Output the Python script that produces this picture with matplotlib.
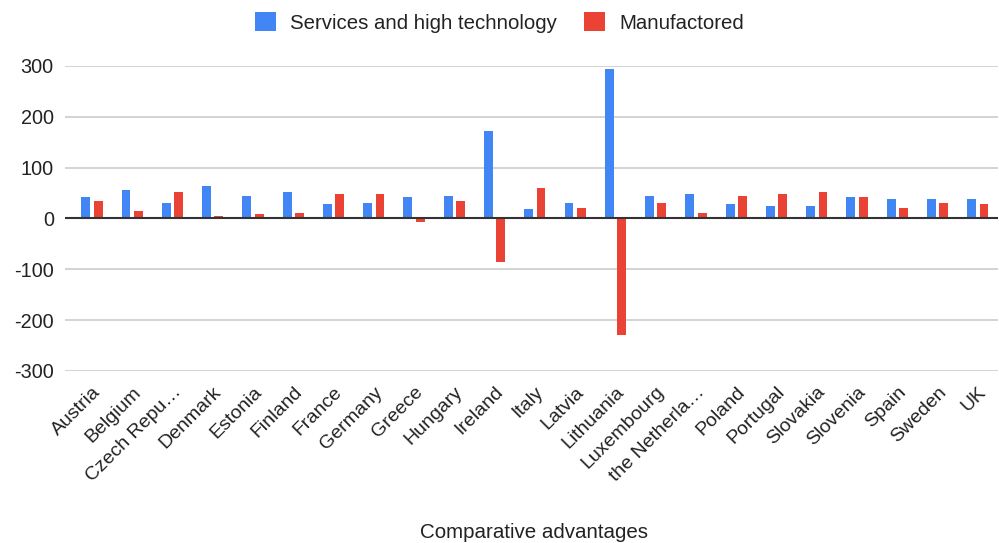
import matplotlib.pyplot as plt
import numpy as np

countries = ["Austria", "Belgium", "Czech Repu…", "Denmark", "Estonia", "Finland",
             "France", "Germany", "Greece", "Hungary", "Ireland", "Italy", "Latvia",
             "Lithuania", "Luxembourg", "the Netherla…", "Poland", "Portugal",
             "Slovakia", "Slovenia", "Spain", "Sweden", "UK"]
services = [42, 56, 31, 63, 45, 52, 28, 31, 42, 45, 173, 18, 31, 294, 45, 49, 28, 25, 25, 42, 39, 39, 39]
manufactored = [35, 14, 52, 5, 8, 11, 49, 49, -6, 35, -85, 59, 21, -229, 31, 11, 45, 49, 52, 42, 21, 31, 28]

plt.rcParams['font.family'] = ['Liberation Sans', 'DejaVu Sans']
plt.rcParams['axes.unicode_minus'] = False
txt = '#222222'

fig = plt.figure(figsize=(9.99, 5.43), dpi=100)
ax = fig.add_axes([0.065, 0.3168, 0.934, 0.5617])

x = np.arange(len(countries))
w = 0.22
ax.bar(x - 0.153, services, w, color='#4285F4', label='Services and high technology', zorder=3)
ax.bar(x + 0.153, manufactored, w, color='#EA4335', label='Manufactored', zorder=3)

ax.set_ylim(-300, 300)
ax.set_xlim(-0.67, 22.5)
ax.set_yticks([-300, -200, -100, 0, 100, 200, 300])
ax.yaxis.grid(True, color='#cccccc', linewidth=1.2, zorder=0)
ax.axhline(0, color='#333333', linewidth=1.5, zorder=4)
ax.tick_params(axis='y', length=0, labelsize=14.3, labelcolor=txt, pad=8)
ax.tick_params(axis='x', length=0, labelsize=14, labelcolor=txt, pad=9)
ax.set_xticks(x)
ax.set_xticklabels(countries, rotation=45, ha='right', rotation_mode='anchor')
for s in ax.spines.values():
    s.set_visible(False)

fig.text(0.535, 0.02, 'Comparative advantages', fontsize=14.8, color=txt,
         ha='center', va='center')

fig.legend(loc='center', bbox_to_anchor=(0.5, 0.9586), ncol=2, frameon=False,
           fontsize=14.7, handlelength=1.0, handleheight=1.0, columnspacing=1.35,
           handletextpad=0.7, labelcolor=txt)

fig.savefig('out.png', dpi=100)
